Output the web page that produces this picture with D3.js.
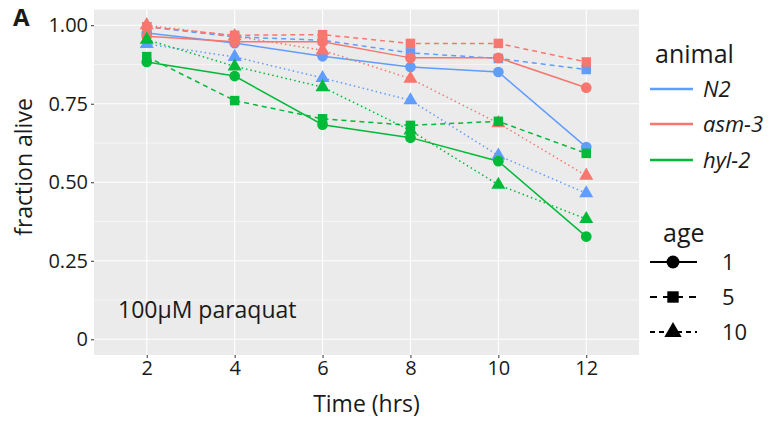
<!DOCTYPE html>
<meta charset="utf-8">
<title>fraction alive - paraquat</title>
<style>
body { margin: 0; background: #fff; }
text { font-family: "Open Sans", "Noto Sans", sans-serif; fill: #1a1a1a; }
.grid-major { stroke: #fff; stroke-width: 1.1; }
.grid-minor { stroke: #fff; stroke-width: 0.55; }
.tick line { stroke: #333; }
</style>
<body>
<script src="https://d3js.org/d3.v7.min.js"></script>
<script>

var times = [2, 4, 6, 8, 10, 12];
var animals = ["N2", "asm-3", "hyl-2"];
var ages = ["1", "5", "10"];
var yTicks = [0, 0.25, 0.5, 0.75, 1];
var yTickLabels = ["0", "0.25", "0.50", "0.75", "1.00"];

// fraction alive
var n2_age1   = [0.975, 0.943, 0.901, 0.867, 0.851, 0.612];
var n2_age5   = [0.995, 0.963, 0.952, 0.912, 0.894, 0.859];
var n2_age10  = [0.940, 0.899, 0.832, 0.761, 0.585, 0.465];
var asm_age1  = [0.965, 0.947, 0.947, 0.896, 0.896, 0.801];
var asm_age5  = [0.995, 0.968, 0.970, 0.942, 0.942, 0.883];
var asm_age10 = [1.000, 0.965, 0.920, 0.830, 0.688, 0.521];
var hyl_age1  = [0.883, 0.838, 0.683, 0.642, 0.567, 0.327];
var hyl_age5  = [0.900, 0.760, 0.702, 0.681, 0.694, 0.592];
var hyl_age10 = [0.954, 0.869, 0.803, 0.665, 0.492, 0.383];

var series = [
  {animal: "N2", age: "1", v: n2_age1},
  {animal: "N2", age: "5", v: n2_age5},
  {animal: "N2", age: "10", v: n2_age10},
  {animal: "asm-3", age: "1", v: asm_age1},
  {animal: "asm-3", age: "5", v: asm_age5},
  {animal: "asm-3", age: "10", v: asm_age10},
  {animal: "hyl-2", age: "1", v: hyl_age1},
  {animal: "hyl-2", age: "5", v: hyl_age5},
  {animal: "hyl-2", age: "10", v: hyl_age10}
];

var width = 773, height = 421;
var panel = {left: 94, right: 639, top: 9.5, bottom: 355};

var color = d3.scaleOrdinal().domain(animals).range(["#619CFF", "#F8766D", "#00BA38"]);
var dash = d3.scaleOrdinal().domain(ages).range(["none", "5,4", "1.5,3"]);
var shape = d3.scaleOrdinal().domain(ages).range([d3.symbolCircle, d3.symbolSquare, d3.symbolTriangle]);
var shapeSize = d3.scaleOrdinal().domain(ages).range([90, 90, 85]);

var x = d3.scalePoint().domain(times).range([panel.left, panel.right]).padding(0.6);
var y = d3.scaleLinear().domain([-0.05, 1.05]).range([panel.bottom, panel.top]);

var svg = d3.select("body").append("svg")
    .attr("width", width)
    .attr("height", height);

svg.append("rect")
    .attr("x", panel.left).attr("y", panel.top)
    .attr("width", panel.right - panel.left)
    .attr("height", panel.bottom - panel.top)
    .attr("fill", "#EBEBEB");

// minor y grid
var minor = [0.125, 0.375, 0.625, 0.875];
svg.selectAll(".grid-minor").data(minor).enter().append("line")
    .attr("class", "grid-minor")
    .attr("x1", panel.left).attr("x2", panel.right)
    .attr("y1", function(d) { return y(d); }).attr("y2", function(d) { return y(d); });

svg.selectAll(".grid-y").data(yTicks).enter().append("line")
    .attr("class", "grid-major")
    .attr("x1", panel.left).attr("x2", panel.right)
    .attr("y1", function(d) { return y(d); }).attr("y2", function(d) { return y(d); });

svg.selectAll(".grid-x").data(times).enter().append("line")
    .attr("class", "grid-major")
    .attr("y1", panel.top).attr("y2", panel.bottom)
    .attr("x1", function(d) { return x(d); }).attr("x2", function(d) { return x(d); });

// axes
var xAxis = svg.append("g")
    .attr("transform", "translate(0," + panel.bottom + ")")
    .call(d3.axisBottom(x).tickSize(3).tickPadding(3));
xAxis.select(".domain").remove();
xAxis.selectAll("text").style("font-size", "20px").attr("fill", "#1a1a1a");

var yAxis = svg.append("g")
    .attr("transform", "translate(" + panel.left + ",0)")
    .call(d3.axisLeft(y).tickValues(yTicks).tickSize(3).tickPadding(3)
      .tickFormat(function(d, i) { return yTickLabels[i]; }));
yAxis.select(".domain").remove();
yAxis.selectAll("text").style("font-size", "20px").attr("fill", "#1a1a1a");

// lines + points
var line = d3.line()
    .x(function(d, i) { return x(times[i]); })
    .y(function(d) { return y(d); });

svg.append("g").selectAll("path").data(series).enter().append("path")
    .attr("d", function(s) { return line(s.v); })
    .attr("fill", "none")
    .attr("stroke", function(s) { return color(s.animal); })
    .attr("stroke-width", 1.5)
    .attr("stroke-dasharray", function(s) { return dash(s.age); });

series.forEach(function(s) {
  svg.append("g").selectAll("path").data(s.v).enter().append("path")
    .attr("transform", function(d, i) { return "translate(" + x(times[i]) + "," + y(d) + ")"; })
    .attr("d", d3.symbol().type(shape(s.age)).size(shapeSize(s.age)))
    .attr("fill", color(s.animal));
});

// labels
svg.append("text")
    .attr("x", 118).attr("y", 318)
    .style("font-size", "23px")
    .text("100\u00B5M paraquat");

svg.append("text")
    .attr("x", (panel.left + panel.right) / 2).attr("y", 412)
    .attr("text-anchor", "middle")
    .style("font-size", "23px")
    .text("Time (hrs)");

svg.append("text")
    .attr("transform", "translate(32,167) rotate(-90)")
    .attr("text-anchor", "middle")
    .style("font-size", "23px")
    .text("fraction alive");

svg.append("text")
    .attr("x", 13).attr("y", 26)
    .style("font-size", "24px")
    .style("font-weight", "bold")
    .text("A");

// legend: animal
var leg = svg.append("g");
leg.append("text").attr("x", 655).attr("y", 63).style("font-size", "25px").text("animal");
var animalY = [89, 124, 160];
animals.forEach(function(a, i) {
  leg.append("line")
    .attr("x1", 650).attr("x2", 693)
    .attr("y1", animalY[i]).attr("y2", animalY[i])
    .attr("stroke", color(a)).attr("stroke-width", 2.5);
  leg.append("text")
    .attr("x", 703).attr("y", animalY[i] + 8)
    .style("font-size", "22px").style("font-style", "italic")
    .text(a);
});

// legend: age
leg.append("text").attr("x", 663).attr("y", 242).style("font-size", "25px").text("age");
var ageY = [262, 297, 332];
ages.forEach(function(a, i) {
  leg.append("line")
    .attr("x1", 650).attr("x2", 697)
    .attr("y1", ageY[i]).attr("y2", ageY[i])
    .attr("stroke", "#000").attr("stroke-width", 2)
    .attr("stroke-dasharray", a === "1" ? "none" : (a === "5" ? "7,6" : "5,4"));
  leg.append("path")
    .attr("transform", "translate(673," + ageY[i] + ")")
    .attr("d", d3.symbol().type(shape(a)).size(130))
    .attr("fill", "#000");
  leg.append("text")
    .attr("x", 722).attr("y", ageY[i] + 8)
    .style("font-size", "22px")
    .text(a);
});

</script>
</body>
